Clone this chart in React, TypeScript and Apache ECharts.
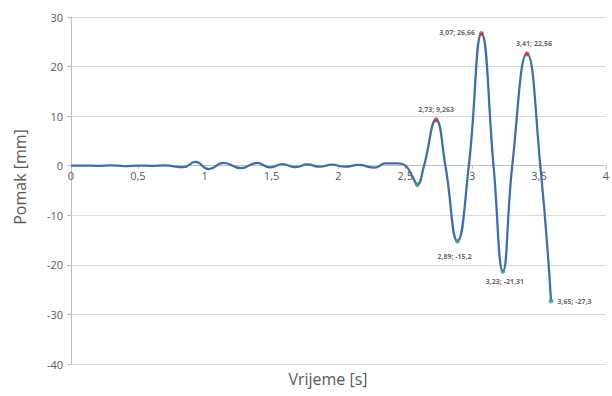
import React, { useEffect, useRef } from "react";
import * as echarts from "echarts";

// Time [s] and displacement [mm] of the recorded signal
const time = [
  0, 0.1, 0.2, 0.3, 0.4, 0.5, 0.6, 0.7, 0.84, 0.93, 1.03, 1.14, 1.27, 1.39, 1.49,
  1.58, 1.68, 1.77, 1.86, 1.95, 2.05, 2.15, 2.27, 2.35, 2.44, 2.5, 2.55, 2.59,
  2.64, 2.73, 2.8, 2.89, 2.975, 3.07, 3.16, 3.23, 3.3, 3.41, 3.51, 3.59,
];
const displacement = [
  0, 0.03, -0.03, 0.06, -0.06, 0.03, -0.03, 0.06, -0.3, 0.75, -0.7, 0.55, -0.5, 0.55,
  -0.35, 0.3, -0.3, 0.25, -0.2, 0.2, -0.2, 0.15, -0.4, 0.45, 0.45, 0, -2, -3.8,
  0, 9.263, 0, -15.2, 0, 26.66, 0, -21.31, 0, 22.56, 0, -27.3,
];

// Marked maxima
const peakTime = [2.73, 3.07, 3.41];
const peakValue = [9.263, 26.66, 22.56];
const peakLabels = ["2,73; 9,263", "3,07; 26,66", "3,41; 22,56"];

// Marked minima
const troughTime = [2.59, 2.89, 3.23, 3.59];
const troughValue = [-3.8, -15.2, -21.31, -27.3];
const troughLabels = ["", "2,89; -15,2", "3,23; -21,31", "3,65; -27,3"];

// Axis settings
const xTicks = { min: 0, max: 4, interval: 0.5 };
const yTicks = { min: -40, max: 30, interval: 10 };

const FONT = "'Open Sans', 'DejaVu Sans', sans-serif";
const TXT = "#595959";

const GRID = { left: 71, right: 3, top: 17, bottom: 32 };
const HEIGHT = 396;

export default function App() {
  const ref = useRef<HTMLDivElement>(null);
  useEffect(() => {
    if (!ref.current) return;
    const chart = echarts.init(ref.current, null, { renderer: "svg" });
    const plotH = HEIGHT - GRID.top - GRID.bottom;
    // move the x axis from the bottom of the grid to the y = 0 line
    const zeroOffset = -plotH * ((0 - yTicks.min) / (yTicks.max - yTicks.min));
    const peakPos = [
      { position: "top", offset: [0, 0] },
      { position: "left", offset: [0, -1] },
      { position: "top", offset: [7, 0] },
    ];
    const troughPos = [
      { position: "bottom", offset: [0, 0] },
      { position: "bottom", offset: [-3, 5] },
      { position: "bottom", offset: [2, 0] },
      { position: "right", offset: [0, 0] },
    ];
    const labelStyle = {
      show: true,
      fontSize: 7,
      fontWeight: "bold" as const,
      color: "#404040",
      fontFamily: FONT,
      distance: 4,
    };
    chart.setOption({
      animation: false,
      textStyle: { fontFamily: FONT },
      grid: GRID,
      xAxis: {
        type: "value",
        min: xTicks.min,
        max: xTicks.max,
        interval: xTicks.interval,
        offset: zeroOffset,
        axisLine: { onZero: false, lineStyle: { color: "#bfbfbf", width: 1 } },
        axisTick: { show: true, length: 3, lineStyle: { color: "#bfbfbf" } },
        splitLine: { show: false },
        axisLabel: {
          color: TXT,
          fontSize: 11,
          margin: 4,
          fontFamily: FONT,
          formatter: (v: number) => String(v).replace(".", ","),
        },
      },
      yAxis: {
        type: "value",
        min: yTicks.min,
        max: yTicks.max,
        interval: yTicks.interval,
        axisLine: { show: true, lineStyle: { color: "#bfbfbf", width: 1 } },
        axisTick: { show: true, length: 4, lineStyle: { color: "#bfbfbf" } },
        splitLine: { show: true, lineStyle: { color: "#d9d9d9", width: 1 } },
        axisLabel: { color: TXT, fontSize: 11, margin: 8, fontFamily: FONT },
      },
      graphic: [
        {
          type: "text",
          x: 328,
          y: 379,
          style: {
            text: "Vrijeme [s]",
            fill: TXT,
            font: `16px ${FONT}`,
            align: "center",
            verticalAlign: "middle",
          },
        },
        {
          type: "text",
          x: 20,
          y: 177,
          rotation: Math.PI / 2,
          style: {
            text: "Pomak [mm]",
            fill: TXT,
            font: `16px ${FONT}`,
            align: "center",
            verticalAlign: "middle",
          },
        },
      ],
      series: [
        {
          type: "line",
          data: time.map((t, i) => [t, displacement[i]]),
          showSymbol: false,
          smooth: 0.5,
          lineStyle: { color: "#3b6db4", width: 2.25 },
          z: 2,
        },
        {
          type: "scatter",
          symbolSize: 5,
          itemStyle: { color: "#d0343a" },
          z: 3,
          data: peakTime.map((t, i) => ({
            value: [t, peakValue[i]],
            label: { ...labelStyle, ...peakPos[i], formatter: peakLabels[i] },
          })),
        },
        {
          type: "scatter",
          symbolSize: 5,
          itemStyle: { color: "#2aa77c" },
          z: 3,
          data: troughTime.map((t, i) => ({
            value: [t, troughValue[i]],
            label: {
              ...labelStyle,
              ...troughPos[i],
              show: troughLabels[i] !== "",
              formatter: troughLabels[i],
            },
          })),
        },
      ],
    });
    return () => chart.dispose();
  }, []);
  return <div ref={ref} style={{ width: 612, height: 396, position: "absolute", left: 0, top: 0 }} />;
}
